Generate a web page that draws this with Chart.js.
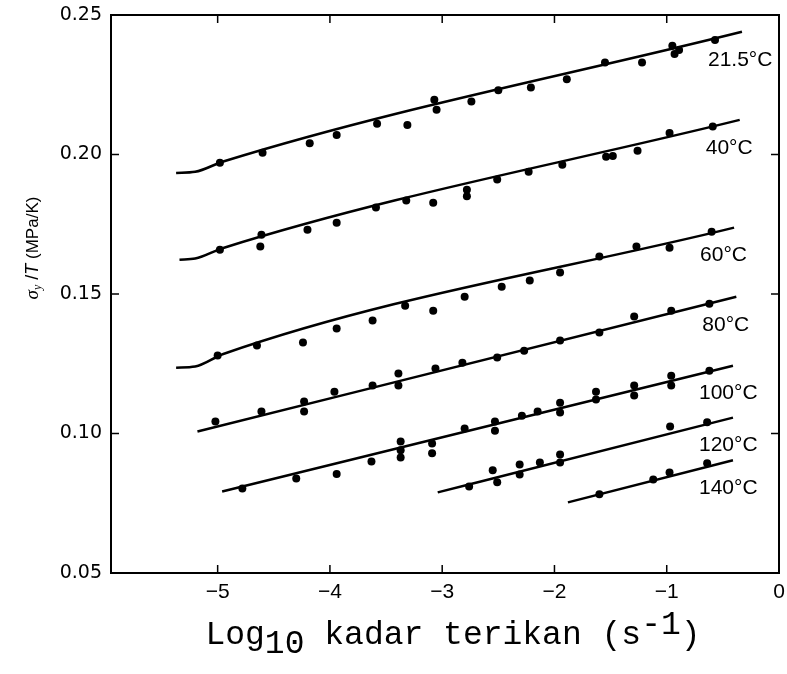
<!DOCTYPE html>
<html>
<head>
<meta charset="utf-8">
<script src="https://cdn.jsdelivr.net/npm/chart.js@4/dist/chart.umd.min.js"></script>
<style>
  body { margin: 0; background: #fff; }
  #wrap { width: 787px; height: 674px; }
</style>
</head>
<body>
<div id="wrap"><canvas id="myChart"></canvas></div>
<script>
// temperature labels
const temps = ["21.5°C", "40°C", "60°C", "80°C", "100°C", "120°C", "140°C"];

// measured points (log10 strain rate, yield stress / T)
const x215 = [-4.98, -4.60, -4.18, -3.94, -3.58, -3.31, -3.07, -3.05, -2.74, -2.50, -2.21, -1.89, -1.55, -1.22, -0.95, -0.93, -0.89, -0.57];
const y215 = [0.197, 0.2006, 0.204, 0.207, 0.211, 0.2106, 0.2196, 0.216, 0.219, 0.223, 0.224, 0.227, 0.233, 0.233, 0.239, 0.236, 0.2375, 0.241];
const x40 = [-4.98, -4.61, -4.62, -4.20, -3.94, -3.59, -3.32, -3.08, -2.78, -2.78, -2.51, -2.23, -1.93, -1.54, -1.48, -1.26, -0.975, -0.59];
const y40 = [0.1659, 0.1712, 0.167, 0.173, 0.1755, 0.181, 0.1835, 0.1827, 0.185, 0.1874, 0.191, 0.1938, 0.1963, 0.1992, 0.1995, 0.2013, 0.2077, 0.21];
const x60 = [-5.0, -4.65, -4.24, -3.94, -3.62, -3.33, -3.08, -2.80, -2.47, -2.22, -1.95, -1.60, -1.27, -0.975, -0.60];
const y60 = [0.128, 0.1315, 0.1326, 0.1376, 0.1405, 0.1458, 0.144, 0.149, 0.1526, 0.1548, 0.1577, 0.1634, 0.167, 0.1666, 0.1723];
const x80 = [-5.02, -4.61, -4.23, -4.23, -3.96, -3.62, -3.39, -3.39, -3.06, -2.82, -2.51, -2.27, -1.95, -1.60, -1.29, -0.96, -0.62];
const y80 = [0.1043, 0.1079, 0.1115, 0.1079, 0.115, 0.1172, 0.1215, 0.1172, 0.1233, 0.1254, 0.1272, 0.1297, 0.1333, 0.1362, 0.1419, 0.144, 0.1465];
const x100 = [-4.78, -4.30, -3.94, -3.63, -3.37, -3.37, -3.37, -3.09, -3.09, -2.80, -2.53, -2.53, -2.29, -2.15, -1.95, -1.95, -1.63, -1.63, -1.29, -1.29, -0.96, -0.96, -0.62];
const y100 = [0.0803, 0.0839, 0.0855, 0.09, 0.0971, 0.094, 0.0914, 0.0964, 0.0929, 0.1018, 0.1043, 0.101, 0.1064, 0.1079, 0.111, 0.1075, 0.115, 0.1122, 0.1172, 0.1136, 0.1207, 0.1172, 0.1225];
const x120 = [-2.76, -2.55, -2.51, -2.31, -2.31, -2.13, -1.95, -1.95, -0.97, -0.64];
const y120 = [0.081, 0.0868, 0.0825, 0.0889, 0.0853, 0.0896, 0.0925, 0.0896, 0.1025, 0.104];
const x140 = [-1.60, -1.12, -0.975, -0.64];
const y140 = [0.0782, 0.0835, 0.086, 0.0893];

// fitted curves
const lx215 = [-5.37, -5.2, -4.95, -0.33];
const ly215 = [0.1934, 0.1938, 0.1975, 0.244];
const lx40 = [-5.34, -5.2, -4.95, -0.35];
const ly40 = [0.1623, 0.1627, 0.1665, 0.2124];
const lx60 = [-5.37, -5.2, -4.95, -0.40];
const ly60 = [0.1236, 0.124, 0.1285, 0.1738];
const lx80 = [-5.18, -0.38];
const ly80 = [0.1007, 0.149];
const lx100 = [-4.96, -0.41];
const ly100 = [0.0792, 0.1243];
const lx120 = [-3.04, -0.41];
const ly120 = [0.0789, 0.1057];
const lx140 = [-1.88, -0.41];
const ly140 = [0.0753, 0.0904];

const xTicks = [-5, -4, -3, -2, -1, 0];
const yTicks = [0.05, 0.10, 0.15, 0.20, 0.25];

const pts = [[x215, y215], [x40, y40], [x60, y60], [x80, y80], [x100, y100], [x120, y120], [x140, y140]];
const fits = [[lx215, ly215], [lx40, ly40], [lx60, ly60], [lx80, ly80], [lx100, ly100], [lx120, ly120], [lx140, ly140]];

const zip = (xs, ys) => xs.map((x, i) => ({ x: x, y: ys[i] }));

const datasets = [];
fits.forEach((f, i) => {
  datasets.push({
    type: "line",
    label: temps[i] + " fit",
    data: zip(f[0], f[1]),
    borderColor: "#000",
    borderWidth: 2.5,
    pointRadius: 0,
    cubicInterpolationMode: "monotone",
    fill: false,
  });
});
pts.forEach((p, i) => {
  datasets.push({
    type: "scatter",
    label: temps[i],
    data: zip(p[0], p[1]),
    backgroundColor: "#000",
    borderWidth: 0,
    pointRadius: 4,
  });
});

const noPad = s => {
  s.paddingTop = 0; s.paddingBottom = 0; s.paddingLeft = 0; s.paddingRight = 0;
};

const decor = {
  id: "decor",
  afterDraw(chart) {
    const ctx = chart.ctx;
    const a = chart.chartArea;
    const xs = chart.scales.x, ys = chart.scales.y;
    ctx.save();
    ctx.strokeStyle = "#000";
    ctx.lineWidth = 2;
    ctx.strokeRect(a.left, a.top, a.right - a.left, a.bottom - a.top);
    // inward ticks on all four sides
    ctx.lineWidth = 1.5;
    ctx.beginPath();
    xTicks.slice(0, -1).forEach(v => {
      const px = xs.getPixelForValue(v);
      ctx.moveTo(px, a.bottom); ctx.lineTo(px, a.bottom - 8);
      ctx.moveTo(px, a.top); ctx.lineTo(px, a.top + 8);
    });
    yTicks.slice(1, -1).forEach(v => {
      const py = ys.getPixelForValue(v);
      ctx.moveTo(a.left, py); ctx.lineTo(a.left + 8, py);
      ctx.moveTo(a.right, py); ctx.lineTo(a.right - 8, py);
    });
    ctx.stroke();

    // curve labels near the end of each fit line
    ctx.fillStyle = "#000";
    ctx.font = "21px 'Liberation Sans', Arial, sans-serif";
    ctx.textAlign = "left";
    ctx.textBaseline = "middle";
    fits.forEach((f, i) => {
      const ex = xs.getPixelForValue(f[0][f[0].length - 1]);
      const ey = ys.getPixelForValue(f[1][f[1].length - 1]);
      ctx.fillText(temps[i], ex - 34, ey + 28);
    });

    // y axis title: sigma_y / T (MPa/K)
    ctx.save();
    ctx.translate(33, 248);
    ctx.rotate(-Math.PI / 2);
    const parts = [
      ["σ", "italic 19px 'Liberation Serif', serif", 0],
      ["y", "italic 12px 'Liberation Serif', serif", 5],
      [" /", "18px 'Liberation Sans', sans-serif", 0],
      ["T", "italic 18px 'Liberation Sans', sans-serif", 0],
      [" (MPa/K)", "17px 'Liberation Sans', sans-serif", 0],
    ];
    let w = 0;
    parts.forEach(p => { ctx.font = p[1]; w += ctx.measureText(p[0]).width; });
    let cx = -w / 2;
    parts.forEach(p => {
      ctx.font = p[1];
      ctx.fillText(p[0], cx, p[2]);
      cx += ctx.measureText(p[0]).width;
    });
    ctx.restore();

    // x axis title: Log10 kadar terikan (s^-1)
    const xp = [
      ["Log", "33px 'Liberation Mono', monospace", 0],
      ["10", "33px 'Liberation Mono', monospace", 9],
      [" kadar terikan (s", "33px 'Liberation Mono', monospace", 0],
      ["-1", "33px 'Liberation Mono', monospace", -10],
      [")", "33px 'Liberation Mono', monospace", 0],
    ];
    w = 0;
    xp.forEach(p => { ctx.font = p[1]; w += ctx.measureText(p[0]).width; });
    cx = 453 - w / 2;
    xp.forEach(p => {
      ctx.font = p[1];
      ctx.fillText(p[0], cx, 635 + p[2]);
      cx += ctx.measureText(p[0]).width;
    });
    ctx.restore();
  },
};

new Chart(document.getElementById("myChart"), {
  data: { datasets: datasets },
  options: {
    responsive: true,
    maintainAspectRatio: false,
    animation: false,
    layout: { padding: { top: 15, right: 8, left: 0, bottom: 0 } },
    plugins: { legend: { display: false }, tooltip: { enabled: false } },
    scales: {
      x: {
        type: "linear",
        min: -5.95,
        max: 0,
        afterBuildTicks: s => { s.ticks = xTicks.map(v => ({ value: v })); },
        afterFit: s => { s.height = 101; noPad(s); },
        grid: { display: false, drawTicks: false },
        border: { display: false },
        ticks: {
          padding: 7,
          color: "#000",
          font: { family: "'Liberation Sans', Arial, sans-serif", size: 21 },
          callback: v => (v < 0 ? "\u2212" + Math.abs(v) : String(v)),
        },
      },
      y: {
        type: "linear",
        min: 0.05,
        max: 0.25,
        afterBuildTicks: s => { s.ticks = yTicks.map(v => ({ value: v })); },
        afterFit: s => { s.width = 111; noPad(s); },
        grid: { display: false, drawTicks: false },
        border: { display: false },
        ticks: {
          padding: 9,
          color: "#000",
          font: { family: "'DejaVu Sans', sans-serif", size: 19 },
          callback: v => v.toFixed(2),
        },
      },
    },
  },
  plugins: [decor],
});
</script>
</body>
</html>
